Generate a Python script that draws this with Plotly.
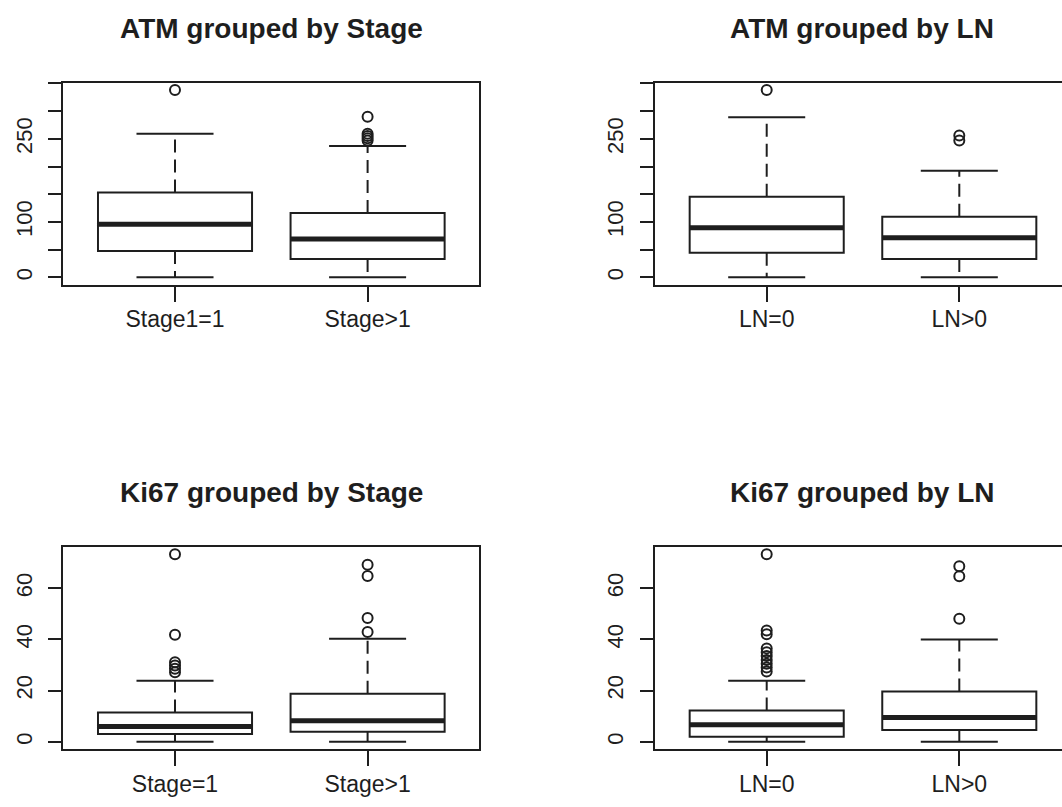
import plotly.graph_objects as go

# ---------------- data ----------------
atm_stage_categories = ["Stage1=1", "Stage>1"]
atm_stage_lower = [0, 0]
atm_stage_q1 = [47.5, 33]
atm_stage_median = [96, 69]
atm_stage_q3 = [153, 116]
atm_stage_upper = [259, 237]
atm_stage_outliers = [[338], [290, 259, 255, 251, 247]]

atm_ln_categories = ["LN=0", "LN>0"]
atm_ln_lower = [0, 0]
atm_ln_q1 = [44.5, 33]
atm_ln_median = [89.5, 71.5]
atm_ln_q3 = [145.5, 109.5]
atm_ln_upper = [289, 192.5]
atm_ln_outliers = [[338], [256, 247]]

ki67_stage_categories = ["Stage=1", "Stage>1"]
ki67_stage_lower = [0, 0]
ki67_stage_q1 = [3, 3.9]
ki67_stage_median = [6, 8.2]
ki67_stage_q3 = [11.4, 18.8]
ki67_stage_upper = [23.9, 40.3]
ki67_stage_outliers = [[27.2, 28.5, 29.8, 31.1, 41.8, 73.3], [42.9, 48.4, 64.8, 69.2]]

ki67_ln_categories = ["LN=0", "LN>0"]
ki67_ln_lower = [0, 0]
ki67_ln_q1 = [2, 4.6]
ki67_ln_median = [6.7, 9.5]
ki67_ln_q3 = [12.2, 19.7]
ki67_ln_upper = [23.9, 40]
ki67_ln_outliers = [[27.5, 29, 30.5, 32, 33.5, 35, 36.5, 42, 43.5, 73.3], [48.1, 64.7, 68.6]]

atm_tick_values = [0, 50, 100, 150, 200, 250, 300, 350]
atm_tick_labels = ["0", "", "100", "", "", "250", "", ""]
ki67_tick_values = [0, 20, 40, 60]
ki67_tick_labels = ["0", "20", "40", "60"]

titles = ["ATM grouped by Stage", "ATM grouped by LN",
          "Ki67 grouped by Stage", "Ki67 grouped by LN"]

# ---------------- layout constants ----------------
W, H = 1062, 807
INK = "#1e1e1e"
FONT = "Liberation Sans, Arial, Helvetica, sans-serif"
BOX_W = 0.8
CAP_W = 0.4
PX_PER_UNIT = 416 / 2.16

# plot regions in pixels: (x0, x1_visible, x1_true) and (y_top, y_bottom)
cols = [(63.3, 479.3, 479.3), (655.0, 1062.0, 1068.0)]
rows = [(82.6, 284.8), (546.7, 749.3)]

panels = [
    (atm_stage_categories, atm_stage_lower, atm_stage_q1, atm_stage_median,
     atm_stage_q3, atm_stage_upper, atm_stage_outliers, atm_tick_values, atm_tick_labels),
    (atm_ln_categories, atm_ln_lower, atm_ln_q1, atm_ln_median,
     atm_ln_q3, atm_ln_upper, atm_ln_outliers, atm_tick_values, atm_tick_labels),
    (ki67_stage_categories, ki67_stage_lower, ki67_stage_q1, ki67_stage_median,
     ki67_stage_q3, ki67_stage_upper, ki67_stage_outliers, ki67_tick_values, ki67_tick_labels),
    (ki67_ln_categories, ki67_ln_lower, ki67_ln_q1, ki67_ln_median,
     ki67_ln_q3, ki67_ln_upper, ki67_ln_outliers, ki67_tick_values, ki67_tick_labels),
]

fig = go.Figure()
annotations = []
layout = {}

for k, (cats, lo, q1, med, q3, hi, outs, tv, tt) in enumerate(panels):
    r, c = divmod(k, 2)
    xa = "x" if k == 0 else f"x{k+1}"
    ya = "y" if k == 0 else f"y{k+1}"
    pos = [i + 1 for i in range(len(cats))]

    # box body
    fig.add_trace(go.Box(
        x=pos, q1=q1, median=med, q3=q3, lowerfence=q1, upperfence=q3,
        width=BOX_W, whiskerwidth=0, boxpoints=False, orientation="v",
        fillcolor="white", line=dict(color=INK, width=2),
        xaxis=xa, yaxis=ya, showlegend=False, hoverinfo="skip"))

    # dashed whiskers
    wx, wy = [], []
    for p, a, b, cc, d in zip(pos, lo, q1, q3, hi):
        wx += [p, p, None, p, p, None]
        wy += [b, a, None, cc, d, None]
    fig.add_trace(go.Scatter(x=wx, y=wy, mode="lines", xaxis=xa, yaxis=ya,
                             line=dict(color=INK, width=2, dash="13px,7px"),
                             showlegend=False, hoverinfo="skip"))
    # caps
    cx, cy = [], []
    for p, a, d in zip(pos, lo, hi):
        cx += [p - CAP_W / 2, p + CAP_W / 2, None, p - CAP_W / 2, p + CAP_W / 2, None]
        cy += [a, a, None, d, d, None]
    fig.add_trace(go.Scatter(x=cx, y=cy, mode="lines", xaxis=xa, yaxis=ya,
                             line=dict(color=INK, width=2),
                             showlegend=False, hoverinfo="skip"))
    # thick medians
    mx, my = [], []
    for p, m in zip(pos, med):
        mx += [p - BOX_W / 2, p + BOX_W / 2, None]
        my += [m, m, None]
    fig.add_trace(go.Scatter(x=mx, y=my, mode="lines", xaxis=xa, yaxis=ya,
                             line=dict(color=INK, width=5),
                             showlegend=False, hoverinfo="skip"))
    # outliers
    ox, oy = [], []
    for p, vals in zip(pos, outs):
        ox += [p] * len(vals)
        oy += vals
    fig.add_trace(go.Scatter(x=ox, y=oy, mode="markers", xaxis=xa, yaxis=ya,
                             marker=dict(symbol="circle-open", size=10,
                                         color=INK, line=dict(color=INK, width=2)),
                             showlegend=False, hoverinfo="skip"))

    # axes
    x0, x1v, x1t = cols[c]
    ytop, ybot = rows[r]
    xmin = 0.5 - 0.04 * 2
    xmax_vis = xmin + (x1v - x0) / PX_PER_UNIT
    all_vals = lo + hi + [v for vs in outs for v in vs]
    dmin, dmax = min(all_vals), max(all_vals)
    pad = 0.04 * (dmax - dmin)

    layout["xaxis" if k == 0 else f"xaxis{k+1}"] = dict(
        domain=[x0 / W, x1v / W], anchor=ya, range=[xmin, xmax_vis],
        tickvals=pos, ticktext=cats, ticks="outside", ticklen=15, tickwidth=2,
        tickcolor=INK, showline=True, mirror=True, linecolor=INK, linewidth=2,
        showgrid=False, zeroline=False, ticklabelstandoff=-2,
        tickfont=dict(family=FONT, size=23, color=INK))
    layout["yaxis" if k == 0 else f"yaxis{k+1}"] = dict(
        domain=[1 - ybot / H, 1 - ytop / H], anchor=xa,
        range=[dmin - pad, dmax + pad],
        tickvals=tv, ticktext=tt, tickangle=-90, ticks="outside", ticklen=13,
        tickwidth=2, tickcolor=INK, showline=True, mirror=(c == 0),
        linecolor=INK, linewidth=2, showgrid=False, zeroline=False,
        ticklabelstandoff=8,
        tickfont=dict(family=FONT, size=22, color=INK))

    annotations.append(dict(
        text=f"<b>{titles[k]}</b>", xref="paper", yref="paper",
        x=((x0 + x1t) / 2) / W, y=1 - (ytop - 54) / H,
        xanchor="center", yanchor="middle", showarrow=False,
        font=dict(family=FONT, size=28, color=INK)))

fig.update_layout(
    width=W, height=H, autosize=False,
    margin=dict(l=0, r=0, t=0, b=0),
    paper_bgcolor="white", plot_bgcolor="white",
    annotations=annotations, showlegend=False, **layout)

fig.write_html("out.html", config={"displayModeBar": False},
               post_script="document.body.style.margin='0';document.body.style.overflow='hidden';")
